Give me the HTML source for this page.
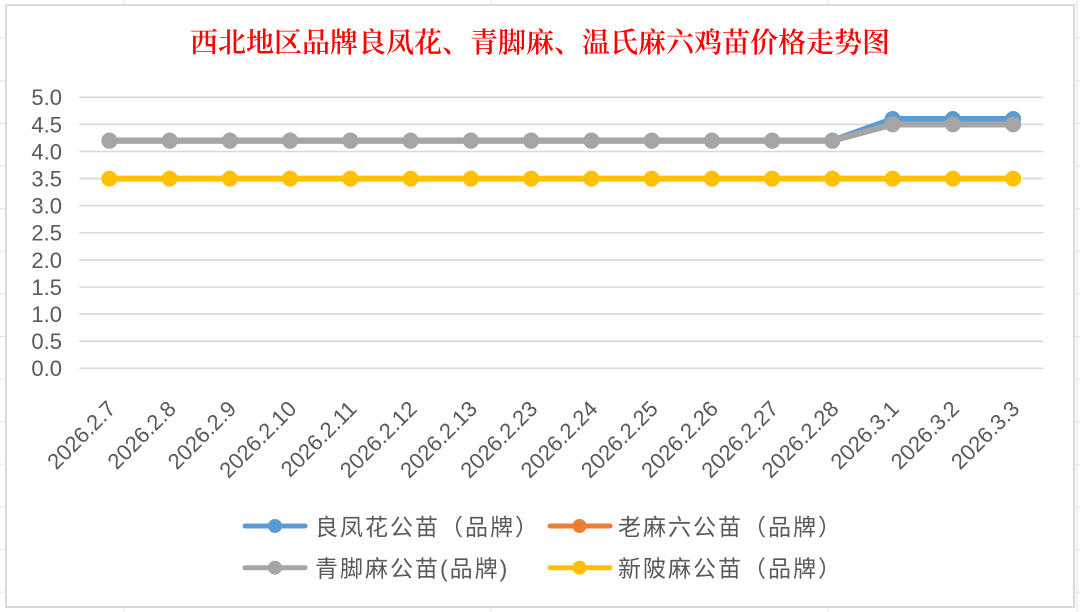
<!DOCTYPE html>
<html>
<head>
<meta charset="utf-8">
<style>
  html,body{margin:0;padding:0;background:#fff;}
  body{width:1080px;height:612px;overflow:hidden;}
  svg{display:block;}
  .yl{font-family:"Liberation Sans",Arial,sans-serif;font-size:22px;fill:#595959;text-anchor:end;}
  .xl{font-family:"Liberation Sans",Arial,sans-serif;font-size:22px;fill:#595959;text-anchor:end;}
  .lg{font-family:"Liberation Sans","Noto Sans CJK SC",sans-serif;font-size:23px;fill:#595959;letter-spacing:2px;}
  .tt{font-family:"Liberation Serif","Noto Serif CJK SC",serif;font-size:28px;fill:#ff0000;text-anchor:middle;font-weight:600;}
</style>
</head>
<body>
<svg width="1080" height="612" viewBox="0 0 1080 612" xmlns="http://www.w3.org/2000/svg">
  <rect x="0" y="0" width="1080" height="612" fill="#ffffff"/>
  <!-- spreadsheet background grid -->
  <g stroke="#e3e3e3" stroke-width="1">
    <line x1="0" y1="38.3" x2="1080" y2="38.3"/>
    <line x1="0" y1="80.9" x2="1080" y2="80.9"/>
    <line x1="0" y1="123.5" x2="1080" y2="123.5"/>
    <line x1="0" y1="166.1" x2="1080" y2="166.1"/>
    <line x1="0" y1="208.7" x2="1080" y2="208.7"/>
    <line x1="0" y1="251.3" x2="1080" y2="251.3"/>
    <line x1="0" y1="293.9" x2="1080" y2="293.9"/>
    <line x1="0" y1="336.5" x2="1080" y2="336.5"/>
    <line x1="0" y1="379.1" x2="1080" y2="379.1"/>
    <line x1="0" y1="421.7" x2="1080" y2="421.7"/>
    <line x1="0" y1="464.3" x2="1080" y2="464.3"/>
    <line x1="0" y1="506.9" x2="1080" y2="506.9"/>
    <line x1="0" y1="549.5" x2="1080" y2="549.5"/>
    <line x1="0" y1="592.1" x2="1080" y2="592.1"/>
    <line x1="124" y1="0" x2="124" y2="612"/>
    <line x1="491" y1="0" x2="491" y2="612"/>
    <line x1="828" y1="0" x2="828" y2="612"/>
    <line x1="1077" y1="0" x2="1077" y2="612"/>
  </g>
  <!-- chart frame -->
  <rect x="6" y="5" width="1068" height="602" fill="#ffffff" stroke="#d9d9d9" stroke-width="2"/>

  <!-- title -->
  <text class="tt" x="540" y="52">西北地区品牌良凤花、青脚麻、温氏麻六鸡苗价格走势图</text>

  <!-- gridlines -->
  <g stroke="#d9d9d9" stroke-width="1.6">
    <line x1="79.3" y1="368.3" x2="1043.3" y2="368.3"/>
    <line x1="79.3" y1="341.2" x2="1043.3" y2="341.2"/>
    <line x1="79.3" y1="314.1" x2="1043.3" y2="314.1"/>
    <line x1="79.3" y1="287.0" x2="1043.3" y2="287.0"/>
    <line x1="79.3" y1="259.9" x2="1043.3" y2="259.9"/>
    <line x1="79.3" y1="232.8" x2="1043.3" y2="232.8"/>
    <line x1="79.3" y1="205.7" x2="1043.3" y2="205.7"/>
    <line x1="79.3" y1="178.6" x2="1043.3" y2="178.6"/>
    <line x1="79.3" y1="151.5" x2="1043.3" y2="151.5"/>
    <line x1="79.3" y1="124.4" x2="1043.3" y2="124.4"/>
    <line x1="79.3" y1="97.3" x2="1043.3" y2="97.3"/>
  </g>

  <!-- y labels -->
  <g class="yl">
    <text x="62" y="376.2">0.0</text>
    <text x="62" y="349.1">0.5</text>
    <text x="62" y="322.0">1.0</text>
    <text x="62" y="294.9">1.5</text>
    <text x="62" y="267.8">2.0</text>
    <text x="62" y="240.7">2.5</text>
    <text x="62" y="213.6">3.0</text>
    <text x="62" y="186.5">3.5</text>
    <text x="62" y="159.4">4.0</text>
    <text x="62" y="132.3">4.5</text>
    <text x="62" y="105.2">5.0</text>
  </g>

  <!-- x labels -->
  <g class="xl">
    <text transform="translate(111.4,404.5) rotate(-45)" y="7.9">2026.2.7</text>
    <text transform="translate(171.65,404.5) rotate(-45)" y="7.9">2026.2.8</text>
    <text transform="translate(231.9,404.5) rotate(-45)" y="7.9">2026.2.9</text>
    <text transform="translate(292.15,404.5) rotate(-45)" y="7.9">2026.2.10</text>
    <text transform="translate(352.4,404.5) rotate(-45)" y="7.9">2026.2.11</text>
    <text transform="translate(412.65,404.5) rotate(-45)" y="7.9">2026.2.12</text>
    <text transform="translate(472.9,404.5) rotate(-45)" y="7.9">2026.2.13</text>
    <text transform="translate(533.15,404.5) rotate(-45)" y="7.9">2026.2.23</text>
    <text transform="translate(593.4,404.5) rotate(-45)" y="7.9">2026.2.24</text>
    <text transform="translate(653.65,404.5) rotate(-45)" y="7.9">2026.2.25</text>
    <text transform="translate(713.9,404.5) rotate(-45)" y="7.9">2026.2.26</text>
    <text transform="translate(774.15,404.5) rotate(-45)" y="7.9">2026.2.27</text>
    <text transform="translate(834.4,404.5) rotate(-45)" y="7.9">2026.2.28</text>
    <text transform="translate(894.65,404.5) rotate(-45)" y="7.9">2026.3.1</text>
    <text transform="translate(954.9,404.5) rotate(-45)" y="7.9">2026.3.2</text>
    <text transform="translate(1015.15,404.5) rotate(-45)" y="7.9">2026.3.3</text>
  </g>

  <!-- series: blue -->
  <g fill="#5b9bd5">
    <polyline fill="none" stroke="#5b9bd5" stroke-width="6" stroke-linejoin="round" points="109.4,140.66 169.65,140.66 229.9,140.66 290.15,140.66 350.4,140.66 410.65,140.66 470.9,140.66 531.15,140.66 591.4,140.66 651.65,140.66 711.9,140.66 772.15,140.66 832.4,140.66 892.65,118.98 952.9,118.98 1013.15,118.98"/>
    <circle cx="109.4" cy="140.66" r="8"/><circle cx="169.65" cy="140.66" r="8"/><circle cx="229.9" cy="140.66" r="8"/><circle cx="290.15" cy="140.66" r="8"/><circle cx="350.4" cy="140.66" r="8"/><circle cx="410.65" cy="140.66" r="8"/><circle cx="470.9" cy="140.66" r="8"/><circle cx="531.15" cy="140.66" r="8"/><circle cx="591.4" cy="140.66" r="8"/><circle cx="651.65" cy="140.66" r="8"/><circle cx="711.9" cy="140.66" r="8"/><circle cx="772.15" cy="140.66" r="8"/><circle cx="832.4" cy="140.66" r="8"/><circle cx="892.65" cy="118.98" r="8"/><circle cx="952.9" cy="118.98" r="8"/><circle cx="1013.15" cy="118.98" r="8"/>
  </g>
  <!-- series: orange (hidden under gray) -->
  <g fill="#ed7d31">
    <polyline fill="none" stroke="#ed7d31" stroke-width="6" stroke-linejoin="round" points="109.4,140.66 169.65,140.66 229.9,140.66 290.15,140.66 350.4,140.66 410.65,140.66 470.9,140.66 531.15,140.66 591.4,140.66 651.65,140.66 711.9,140.66 772.15,140.66 832.4,140.66 892.65,124.4 952.9,124.4 1013.15,124.4"/>
  </g>
  <!-- series: gray -->
  <g fill="#a5a5a5">
    <polyline fill="none" stroke="#a5a5a5" stroke-width="6" stroke-linejoin="round" points="109.4,140.66 169.65,140.66 229.9,140.66 290.15,140.66 350.4,140.66 410.65,140.66 470.9,140.66 531.15,140.66 591.4,140.66 651.65,140.66 711.9,140.66 772.15,140.66 832.4,140.66 892.65,124.4 952.9,124.4 1013.15,124.4"/>
    <circle cx="109.4" cy="140.66" r="8"/><circle cx="169.65" cy="140.66" r="8"/><circle cx="229.9" cy="140.66" r="8"/><circle cx="290.15" cy="140.66" r="8"/><circle cx="350.4" cy="140.66" r="8"/><circle cx="410.65" cy="140.66" r="8"/><circle cx="470.9" cy="140.66" r="8"/><circle cx="531.15" cy="140.66" r="8"/><circle cx="591.4" cy="140.66" r="8"/><circle cx="651.65" cy="140.66" r="8"/><circle cx="711.9" cy="140.66" r="8"/><circle cx="772.15" cy="140.66" r="8"/><circle cx="832.4" cy="140.66" r="8"/><circle cx="892.65" cy="124.4" r="8"/><circle cx="952.9" cy="124.4" r="8"/><circle cx="1013.15" cy="124.4" r="8"/>
  </g>
  <!-- series: yellow -->
  <g fill="#ffc000">
    <polyline fill="none" stroke="#ffc000" stroke-width="6" stroke-linejoin="round" points="109.4,178.6 1013.15,178.6"/>
    <circle cx="109.4" cy="178.6" r="8"/><circle cx="169.65" cy="178.6" r="8"/><circle cx="229.9" cy="178.6" r="8"/><circle cx="290.15" cy="178.6" r="8"/><circle cx="350.4" cy="178.6" r="8"/><circle cx="410.65" cy="178.6" r="8"/><circle cx="470.9" cy="178.6" r="8"/><circle cx="531.15" cy="178.6" r="8"/><circle cx="591.4" cy="178.6" r="8"/><circle cx="651.65" cy="178.6" r="8"/><circle cx="711.9" cy="178.6" r="8"/><circle cx="772.15" cy="178.6" r="8"/><circle cx="832.4" cy="178.6" r="8"/><circle cx="892.65" cy="178.6" r="8"/><circle cx="952.9" cy="178.6" r="8"/><circle cx="1013.15" cy="178.6" r="8"/>
  </g>

  <!-- legend -->
  <g>
    <line x1="245" y1="526" x2="305" y2="526" stroke="#5b9bd5" stroke-width="5" stroke-linecap="round"/>
    <circle cx="275" cy="526" r="7" fill="#5b9bd5"/>
    <text class="lg" x="315" y="534.8">良凤花公苗（品牌）</text>

    <line x1="550" y1="526" x2="610" y2="526" stroke="#ed7d31" stroke-width="5" stroke-linecap="round"/>
    <circle cx="579.5" cy="526" r="7" fill="#ed7d31"/>
    <text class="lg" x="618" y="534.8">老麻六公苗（品牌）</text>

    <line x1="245" y1="567.7" x2="305" y2="567.7" stroke="#a5a5a5" stroke-width="5" stroke-linecap="round"/>
    <circle cx="275" cy="567.7" r="7" fill="#a5a5a5"/>
    <text class="lg" x="315" y="576.5">青脚麻公苗(品牌)</text>

    <line x1="550" y1="567.7" x2="610" y2="567.7" stroke="#ffc000" stroke-width="5" stroke-linecap="round"/>
    <circle cx="579.5" cy="567.7" r="7" fill="#ffc000"/>
    <text class="lg" x="618" y="576.5">新陂麻公苗（品牌）</text>
  </g>
</svg>
</body>
</html>
